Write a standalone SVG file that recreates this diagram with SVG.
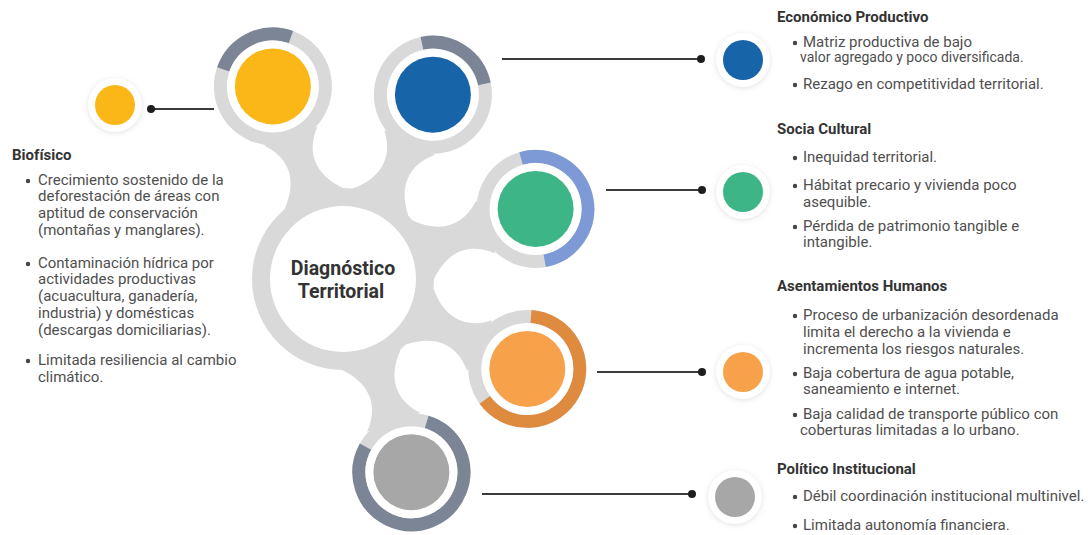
<svg xmlns="http://www.w3.org/2000/svg" xmlns:xlink="http://www.w3.org/1999/xlink" width="1089" height="535" viewBox="0 0 1089 535">
<defs>
<style>
text{font-family:Roboto,"Liberation Sans",sans-serif;}
.hub{font-size:19.5px;font-weight:bold;fill:#333;text-anchor:middle;}
.tt{font-size:15px;font-weight:bold;fill:#333;}
.bd{font-size:15px;fill:#4f4f4f;}
.bul{fill:#444;}
.ring{fill:#d9d9d9;}
.gap{fill:#fff;}
.arc{fill:none;stroke-width:13;}
.ln{stroke:#3c3c3c;stroke-width:2;fill:none;}
.end{fill:#1e1e1e;}
.halo{fill:#fff;filter:url(#sh);}
</style>
<filter id="sh" x="-50%" y="-50%" width="200%" height="200%">
<feDropShadow dx="0" dy="1" stdDeviation="2.5" flood-color="#999" flood-opacity="0.3"/>
</filter>
<path id="neck" d="M85.5,-31.1 C108,-9 132,-9 152,-28.2 L152,28.2 C132,9 108,9 85.5,31.1 Z" fill="#d9d9d9"/>
</defs>
<rect width="1089" height="535" fill="#fff"/>

<g id="connectors">
<use xlink:href="#neck" transform="translate(343,279) rotate(-110)"/>
<use xlink:href="#neck" transform="translate(343,279) rotate(-64)"/>
<use xlink:href="#neck" transform="translate(343,279) rotate(-20)"/>
<use xlink:href="#neck" transform="translate(343,279) rotate(26)"/>
<use xlink:href="#neck" transform="translate(343,279) rotate(70.5)"/>
<line class="ln" x1="151" y1="109" x2="214" y2="109"/><circle class="end" cx="151" cy="109" r="4"/>
<line class="ln" x1="502" y1="59" x2="701" y2="59"/><circle class="end" cx="701" cy="59" r="4"/>
<line class="ln" x1="606" y1="190" x2="702" y2="190"/><circle class="end" cx="702" cy="190" r="4"/>
<line class="ln" x1="597" y1="372" x2="702" y2="372"/><circle class="end" cx="702" cy="372" r="4"/>
<line class="ln" x1="482" y1="494" x2="692" y2="494"/><circle class="end" cx="692" cy="494" r="4"/>
</g>

<g id="hub">
<circle class="ring" cx="343" cy="279" r="91"/>
<circle class="gap" cx="343" cy="279" r="73"/>
<text class="hub" x="343" y="275">Diagnóstico</text>
<text class="hub" x="341" y="298">Territorial</text>
</g>

<g id="sat-biofisico" transform="translate(272.9,86.4)">
<circle class="ring" r="59"/>
<path class="arc" stroke="#7b8596" d="M-49.6,-17.1 A52.5,52.5 0 0 1 18,-49.3"/>
<circle class="gap" r="46"/>
<circle r="38" fill="#fbb717"/>
</g>
<g id="sat-economico" transform="translate(432.9,94.7)">
<circle class="ring" r="59"/>
<path class="arc" stroke="#7b8596" d="M-10.9,-51.4 A52.5,52.5 0 0 1 51.4,-10.9"/>
<circle class="gap" r="46"/>
<circle r="38" fill="#1764a8"/>
</g>
<g id="sat-social" transform="translate(535.6,208.9)">
<circle class="ring" r="59"/>
<path class="arc" stroke="#7d9ad6" d="M-14.5,-50.5 A52.5,52.5 0 1 1 9.1,51.7"/>
<circle class="gap" r="46"/>
<circle r="38" fill="#3db587"/>
</g>
<g id="sat-asentamientos" transform="translate(527.3,368.9)">
<circle class="ring" r="59"/>
<path class="arc" stroke="#de8b40" d="M3.7,-52.4 A52.5,52.5 0 1 1 -42.5,30.9"/>
<circle class="gap" r="46"/>
<circle r="38" fill="#f7a24b"/>
</g>
<g id="sat-politico" transform="translate(411.4,472.2)">
<circle class="ring" r="59"/>
<path class="arc" stroke="#7b8596" d="M15.3,-50.2 A52.5,52.5 0 1 1 -45.9,-25.5"/>
<circle class="gap" r="46"/>
<circle r="38" fill="#a7a7a7"/>
</g>

<g id="dot-biofisico"><circle class="halo" cx="115" cy="105" r="27"/><circle cx="115" cy="105" r="20" fill="#fbb717"/></g>
<g id="dot-economico"><circle class="halo" cx="743" cy="60" r="27"/><circle cx="743" cy="60" r="20" fill="#1764a8"/></g>
<g id="dot-social"><circle class="halo" cx="743" cy="192" r="27"/><circle cx="743" cy="192" r="20" fill="#3db587"/></g>
<g id="dot-asentamientos"><circle class="halo" cx="743" cy="372" r="27"/><circle cx="743" cy="372" r="20" fill="#f7a24b"/></g>
<g id="dot-politico"><circle class="halo" cx="735" cy="497" r="27"/><circle cx="735" cy="497" r="20" fill="#a7a7a7"/></g>

<g id="text-biofisico">
<text class="tt" x="12" y="160">Biofísico</text>
<circle class="bul" cx="28" cy="181" r="2.2"/>
<text class="bd" x="38" y="185">Crecimiento sostenido de la</text>
<text class="bd" x="38" y="201">deforestación de áreas con</text>
<text class="bd" x="38" y="218">aptitud de conservación</text>
<text class="bd" x="38" y="235">(montañas y manglares).</text>
<circle class="bul" cx="28" cy="264" r="2.2"/>
<text class="bd" x="38" y="268">Contaminación hídrica por</text>
<text class="bd" x="38" y="284">actividades productivas</text>
<text class="bd" x="38" y="301">(acuacultura, ganadería,</text>
<text class="bd" x="38" y="318">industria) y domésticas</text>
<text class="bd" x="38" y="335">(descargas domiciliarias).</text>
<circle class="bul" cx="28" cy="361" r="2.2"/>
<text class="bd" x="38" y="365">Limitada resiliencia al cambio</text>
<text class="bd" x="38" y="382">climático.</text>
</g>

<g id="text-economico">
<text class="tt" x="777" y="22">Económico Productivo</text>
<circle class="bul" cx="795" cy="43" r="2.2"/>
<text class="bd" x="803" y="47">Matriz productiva de bajo</text>
<text class="bd" x="800" y="62" style="font-size:14px">valor agregado y poco diversificada.</text>
<circle class="bul" cx="795" cy="85" r="2.2"/>
<text class="bd" x="803" y="89">Rezago en competitividad territorial.</text>
</g>

<g id="text-social">
<text class="tt" x="777" y="134">Socia Cultural</text>
<circle class="bul" cx="795" cy="158" r="2.2"/>
<text class="bd" x="803" y="162">Inequidad territorial.</text>
<circle class="bul" cx="795" cy="186" r="2.2"/>
<text class="bd" x="803" y="190">Hábitat precario y vivienda poco</text>
<text class="bd" x="803" y="207">asequible.</text>
<circle class="bul" cx="795" cy="227" r="2.2"/>
<text class="bd" x="803" y="231">Pérdida de patrimonio tangible e</text>
<text class="bd" x="803" y="247">intangible.</text>
</g>

<g id="text-asentamientos">
<text class="tt" x="777" y="291">Asentamientos Humanos</text>
<circle class="bul" cx="795" cy="316" r="2.2"/>
<text class="bd" x="803" y="320">Proceso de urbanización desordenada</text>
<text class="bd" x="803" y="337">limita el derecho a la vivienda e</text>
<text class="bd" x="803" y="354">incrementa los riesgos naturales.</text>
<circle class="bul" cx="795" cy="374" r="2.2"/>
<text class="bd" x="803" y="378">Baja cobertura de agua potable,</text>
<text class="bd" x="803" y="394">saneamiento e internet.</text>
<circle class="bul" cx="795" cy="415" r="2.2"/>
<text class="bd" x="803" y="419">Baja calidad de transporte público con</text>
<text class="bd" x="800" y="435">coberturas limitadas a lo urbano.</text>
</g>

<g id="text-politico">
<text class="tt" x="777" y="474">Político Institucional</text>
<circle class="bul" cx="795" cy="497" r="2.2"/>
<text class="bd" x="803" y="501">Débil coordinación institucional multinivel.</text>
<circle class="bul" cx="795" cy="526" r="2.2"/>
<text class="bd" x="803" y="530">Limitada autonomía financiera.</text>
</g>
</svg>
